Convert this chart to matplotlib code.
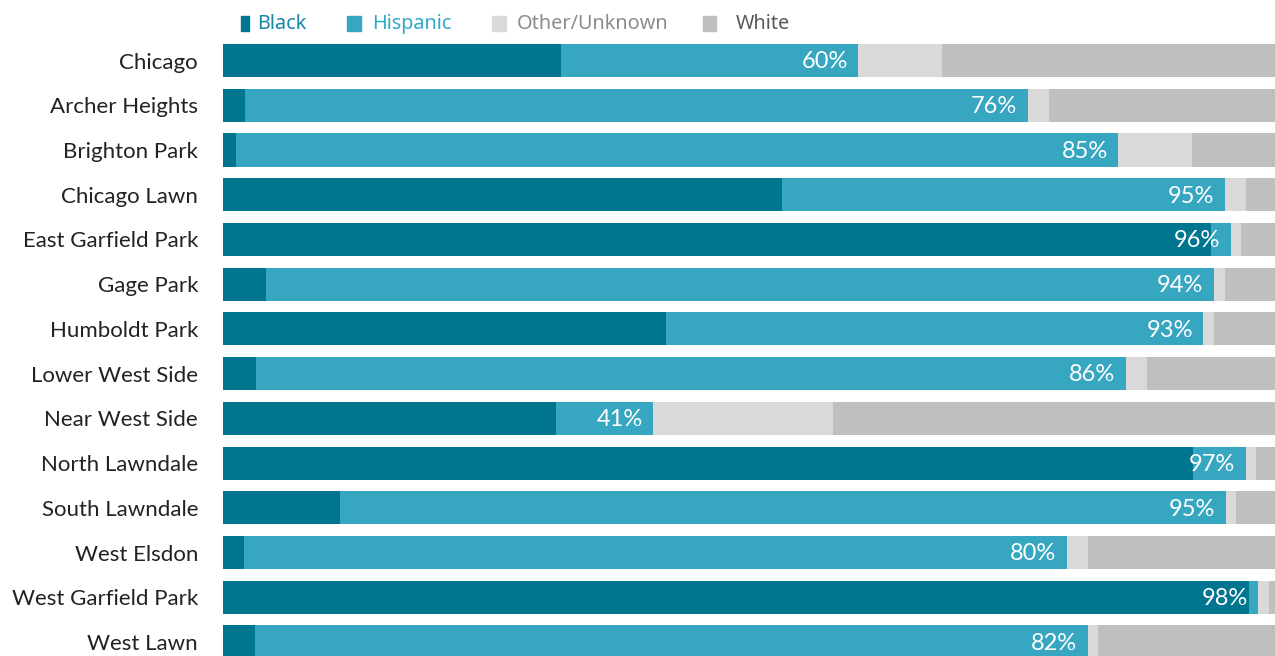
import matplotlib
matplotlib.use("Agg")
import matplotlib.pyplot as plt
from matplotlib.patches import Rectangle

areas = ["Chicago", "Archer Heights", "Brighton Park", "Chicago Lawn", "East Garfield Park",
         "Gage Park", "Humboldt Park", "Lower West Side", "Near West Side", "North Lawndale",
         "South Lawndale", "West Elsdon", "West Garfield Park", "West Lawn"]
black = [32.1, 2.1, 1.2, 53.1, 93.9, 4.1, 42.1, 3.1, 31.7, 92.2, 11.1, 2.0, 97.5, 3.0]
hispanic = [28.3, 74.4, 83.9, 42.1, 1.9, 90.1, 51.1, 82.7, 9.2, 5.0, 84.2, 78.2, 0.9, 79.2]
other = [7.9, 2.0, 7.0, 2.0, 1.0, 1.0, 1.0, 2.0, 17.1, 1.0, 1.0, 2.0, 1.0, 1.0]
white = [31.7, 21.5, 7.9, 2.8, 3.2, 4.8, 5.8, 12.2, 42.0, 1.8, 3.7, 17.8, 0.6, 16.8]
labels = ["60%", "76%", "85%", "95%", "96%", "94%", "93%", "86%", "41%", "97%", "95%", "80%", "98%", "82%"]

series_names = ["Black", "Hispanic", "Other/Unknown", "White"]
colors = ["#00758F", "#36A6C1", "#D9D9D9", "#BFBFBF"]
text_colors = ["#1A86A6", "#2FA9CA", "#8C8C8C", "#595959"]

W, H = 1275, 656
fig = plt.figure(figsize=(W / 100, H / 100), dpi=100)
ax = fig.add_axes([223 / W, 0, 1 - 223 / W, 1])

y = list(range(len(areas)))
left = [0] * len(areas)
for vals, c in zip([black, hispanic, other, white], colors):
    ax.barh(y, vals, left=left, height=0.74, color=c, edgecolor="none")
    left = [l + v for l, v in zip(left, vals)]

for i in y:
    end = black[i] + hispanic[i]
    ax.text(end - 1.0, i + 0.03, labels[i], ha="right", va="center", color="white",
            fontsize=17, family="Lato")

ax.set_xlim(0, 100)
ax.set_ylim(13.313, -1.353)
ax.set_yticks(y)
ax.set_yticklabels(areas, fontsize=16, family="Lato", color="#222222")
ax.tick_params(axis="y", length=0, pad=18)
ax.set_xticks([])
for s in ax.spines.values():
    s.set_visible(False)

# legend row
leg_y = 24
items = [(241, 249, 257), (347, 361, 372), (492, 506, 517), (703, 716, 736)]
for (x0, x1, tx), name, c, tc in zip(items, series_names, colors, text_colors):
    fig.patches.append(Rectangle((x0 / W, 1 - 31 / H), (x1 - x0) / W, 15 / H,
                                 transform=fig.transFigure, color=c, figure=fig))
    fig.text(tx / W, 1 - leg_y / H, name, color=tc, fontsize=14.3, family="Noto Sans",
             ha="left", va="center")

fig.savefig("out.png", dpi=100)
